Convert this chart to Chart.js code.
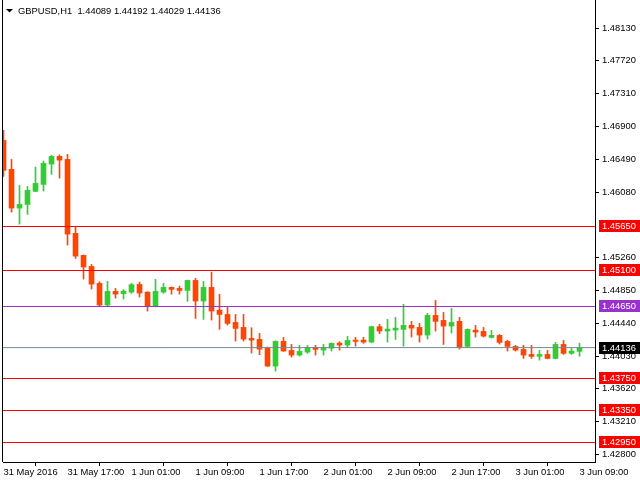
<!DOCTYPE html>
<html>
<head>
<meta charset="utf-8">
<script src="https://cdn.jsdelivr.net/npm/chart.js@4.4.1/dist/chart.umd.min.js"></script>
<style>
  html, body { margin: 0; padding: 0; background: #fff; }
</style>
</head>
<body>
<canvas id="chart" width="640" height="480"></canvas>
<script>
// GBPUSD H1, 31 May 2016 09:00 .. 3 Jun 2016 09:00
const open = [
  1.46726, 1.46364, 1.45880, 1.45926, 1.46089, 1.46176, 1.46430, 1.46526, 1.46489, 1.45564,
  1.45289, 1.45151, 1.44939, 1.44668, 1.44839, 1.44810, 1.44830, 1.44926, 1.44830, 1.44651,
  1.44830, 1.44889, 1.44876, 1.44851, 1.44976, 1.44718, 1.44889, 1.44605, 1.44551, 1.44451,
  1.44389, 1.44251, 1.44239, 1.44130, 1.43905, 1.44214, 1.44101, 1.44043, 1.44080, 1.44139,
  1.44105, 1.44130, 1.44193, 1.44168, 1.44230, 1.44230, 1.44205, 1.44398, 1.44343, 1.44355,
  1.44364, 1.44414, 1.44389, 1.44293, 1.44539, 1.44476, 1.44405, 1.44464, 1.44151, 1.44355,
  1.44339, 1.44264, 1.44289, 1.44214, 1.44151, 1.44114, 1.44051, 1.44026, 1.44051, 1.44001,
  1.44176, 1.44064, 1.44089
];
const high = [
  1.46851, 1.46489, 1.46164, 1.46151, 1.46392, 1.46468, 1.46539, 1.46545, 1.46551, 1.45643,
  1.45295, 1.45176, 1.44960, 1.44964, 1.44876, 1.44860, 1.44939, 1.44955, 1.44834, 1.44989,
  1.44939, 1.44895, 1.44905, 1.44980, 1.45001, 1.44964, 1.45080, 1.44801, 1.44643, 1.44551,
  1.44551, 1.44385, 1.44314, 1.44143, 1.44222, 1.44264, 1.44176, 1.44164, 1.44164, 1.44164,
  1.44176, 1.44195, 1.44210, 1.44276, 1.44264, 1.44264, 1.44405, 1.44426, 1.44489, 1.44514,
  1.44676, 1.44464, 1.44439, 1.44564, 1.44726, 1.44576, 1.44626, 1.44514, 1.44370, 1.44414,
  1.44389, 1.44351, 1.44301, 1.44230, 1.44164, 1.44164, 1.44164, 1.44101, 1.44101, 1.44201,
  1.44226, 1.44126, 1.44192
];
const low = [
  1.46276, 1.45830, 1.45680, 1.45801, 1.46085, 1.46093, 1.46301, 1.46255, 1.45418, 1.45251,
  1.44993, 1.44868, 1.44651, 1.44651, 1.44755, 1.44743, 1.44814, 1.44768, 1.44593, 1.44645,
  1.44814, 1.44805, 1.44805, 1.44714, 1.44501, 1.44489, 1.44480, 1.44364, 1.44418, 1.44218,
  1.44218, 1.44068, 1.44048, 1.43900, 1.43843, 1.44090, 1.44018, 1.44030, 1.44064, 1.44043,
  1.44043, 1.44093, 1.44105, 1.44135, 1.44155, 1.44189, 1.44200, 1.44310, 1.44205, 1.44239,
  1.44155, 1.44268, 1.44205, 1.44243, 1.44343, 1.44176, 1.44318, 1.44117, 1.44139, 1.44268,
  1.44268, 1.44255, 1.44180, 1.44093, 1.44093, 1.44001, 1.44001, 1.43980, 1.43995, 1.43995,
  1.44051, 1.44051, 1.44029
];
const close = [
  1.46351, 1.45880, 1.45926, 1.46101, 1.46189, 1.46439, 1.46526, 1.46480, 1.45555, 1.45280,
  1.45143, 1.44930, 1.44668, 1.44839, 1.44805, 1.44843, 1.44923, 1.44818, 1.44651, 1.44839,
  1.44889, 1.44864, 1.44851, 1.44976, 1.44718, 1.44889, 1.44593, 1.44551, 1.44439, 1.44376,
  1.44243, 1.44230, 1.44117, 1.43905, 1.44214, 1.44093, 1.44043, 1.44089, 1.44135, 1.44114,
  1.44139, 1.44189, 1.44168, 1.44226, 1.44214, 1.44205, 1.44398, 1.44343, 1.44368, 1.44380,
  1.44414, 1.44380, 1.44293, 1.44539, 1.44464, 1.44405, 1.44451, 1.44139, 1.44364, 1.44330,
  1.44280, 1.44289, 1.44201, 1.44151, 1.44105, 1.44043, 1.44026, 1.44051, 1.44001, 1.44176,
  1.44064, 1.44093, 1.44136
];

const timeLabels = ['31 May 2016', '31 May 17:00', '1 Jun 01:00', '1 Jun 09:00', '1 Jun 17:00',
  '2 Jun 01:00', '2 Jun 09:00', '2 Jun 17:00', '3 Jun 01:00', '3 Jun 09:00'];
const barsPerLabel = 8;
const priceTicks = [1.48130, 1.47720, 1.47310, 1.46900, 1.46490, 1.46080, 1.45260,
  1.44850, 1.44440, 1.44030, 1.43620, 1.43210, 1.42800];
const redLevels = [1.45650, 1.45100, 1.43750, 1.43350, 1.42950];
const purpleLevels = [1.44650];
const lastPrice = close[close.length - 1];

const UP = '#32cd32', DOWN = '#ff4500', RED = '#ff0000', PURPLE = '#9932cc', LAST = '#778899';
const FONT = 'Liberation Sans';
const FSIZE = 9.4;

const colors = open.map((o, i) => close[i] >= o ? UP : DOWN);
const bodies = open.map((o, i) => ({ x: i, y: [o, close[i]] }));
const wicks = open.map((o, i) => ({ x: i, y: [low[i], high[i]] }));

const hline = (v, color) => ({
  type: 'line',
  data: [{ x: -5, y: v }, { x: 90, y: v }],
  borderColor: color, borderWidth: 1, pointRadius: 0, order: -1
});

const levelLabels = {
  id: 'levelLabels',
  afterDraw(chart) {
    const { ctx, chartArea, scales: { y } } = chart;
    ctx.save();
    // left frame line
    ctx.fillStyle = '#000';
    ctx.fillRect(chartArea.left - 1, 0, 1, chartArea.bottom);
    // header
    ctx.beginPath();
    ctx.moveTo(6, 9); ctx.lineTo(13, 9); ctx.lineTo(9.5, 12.5); ctx.closePath();
    ctx.fill();
    ctx.font = FSIZE + 'px "' + FONT + '"';
    ctx.textBaseline = 'alphabetic';
    ctx.textAlign = 'left';
    ctx.fillText('GBPUSD,H1  ' + [open, high, low, close].map(a => a[a.length - 1].toFixed(5)).join(' '), 18, 14);
    // price tags
    const tags = redLevels.map(v => [v, RED]).concat(purpleLevels.map(v => [v, PURPLE]), [[lastPrice, '#000']]);
    ctx.textBaseline = 'middle';
    tags.forEach(([v, c]) => {
      const py = Math.round(y.getPixelForValue(v));
      ctx.fillStyle = c;
      ctx.fillRect(chartArea.right + 4, py - 6, 41, 12);
      ctx.fillStyle = '#fff';
      ctx.fillText(v.toFixed(5), chartArea.right + 7, py + 0.5);
    });
    ctx.restore();
  }
};

new Chart(document.getElementById('chart'), {
  type: 'bar',
  data: {
    datasets: [
      { data: bodies, backgroundColor: colors, barThickness: 5, minBarLength: 1, grouped: false, order: 0 },
      { data: wicks, backgroundColor: colors, barThickness: 1, grouped: false, order: 1 },
      ...redLevels.map(v => hline(v, RED)),
      ...purpleLevels.map(v => hline(v, PURPLE)),
      hline(lastPrice, LAST)
    ]
  },
  options: {
    responsive: false,
    animation: false,
    layout: { padding: { left: 3, top: 0, right: 0, bottom: 0 } },
    plugins: { legend: { display: false }, tooltip: { enabled: false } },
    scales: {
      x: {
        type: 'linear',
        offset: false,
        min: -0.0625,
        max: 73.9375,
        afterFit: s => { s.height = 18; s.paddingLeft = 0; s.paddingRight = 0; },
        afterBuildTicks: s => { s.ticks = timeLabels.map((_, k) => ({ value: k * barsPerLabel })); },
        ticks: {
          autoSkip: false, maxRotation: 0, align: 'start', padding: 1,
          color: '#000', font: { family: FONT, size: FSIZE },
          callback: v => timeLabels[v / barsPerLabel]
        },
        grid: { drawOnChartArea: false, color: '#000', tickLength: 4 },
        border: { color: '#000' }
      },
      y: {
        position: 'right',
        min: 1.45650 - 235.5 / 8000,
        max: 1.45650 + 226.5 / 8000,
        afterFit: s => { s.width = 45; s.paddingTop = 0; s.paddingBottom = 0; },
        afterBuildTicks: s => { s.ticks = priceTicks.map(v => ({ value: v })); },
        ticks: {
          padding: 3, color: '#000', font: { family: FONT, size: FSIZE },
          callback: v => v.toFixed(5)
        },
        grid: { drawOnChartArea: false, color: '#000', tickLength: 4 },
        border: { color: '#000' }
      }
    }
  },
  plugins: [levelLabels]
});
</script>
</body>
</html>
